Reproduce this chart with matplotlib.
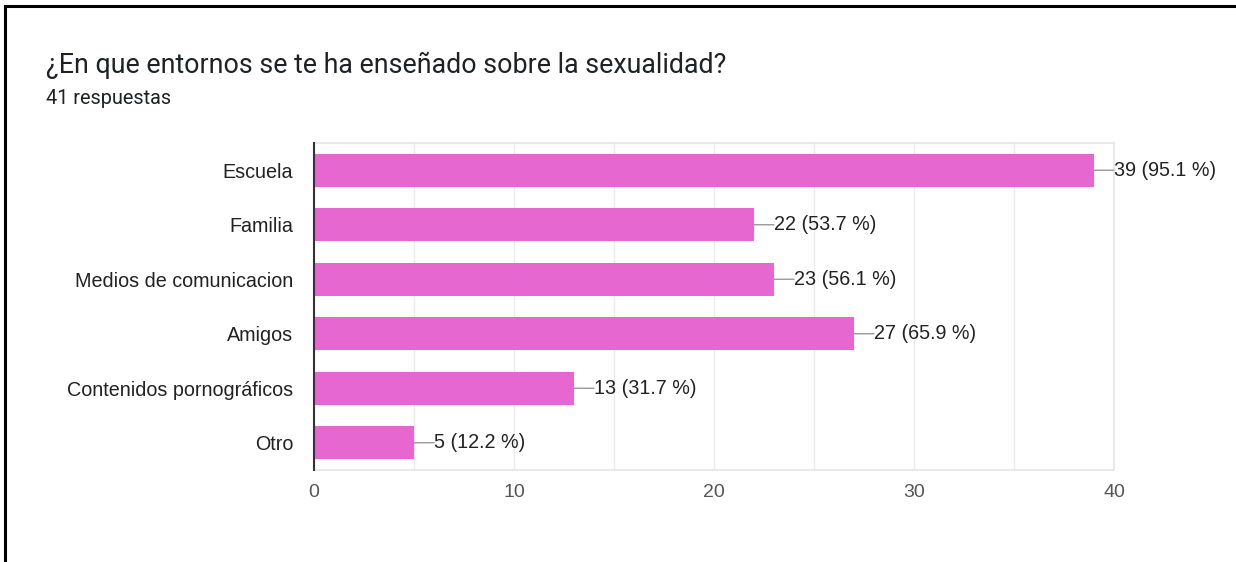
import matplotlib.pyplot as plt
from matplotlib.lines import Line2D

# survey data
categories = ["Escuela", "Familia", "Medios de comunicacion", "Amigos",
              "Contenidos pornográficos", "Otro"]
counts = [39, 22, 23, 27, 13, 5]
percents = [95.1, 53.7, 56.1, 65.9, 31.7, 12.2]
total = 41

fig = plt.figure(figsize=(12.36, 5.62), dpi=100)
ax = fig.add_axes([314 / 1236, 1 - 470 / 562, 800 / 1236, 327 / 562])

ypos = list(range(len(categories)))
ax.barh(ypos, counts, height=0.61, color="#e667d0", zorder=3)

ax.set_xlim(0, 40)
ax.set_ylim(len(categories) - 0.5, -0.5)
ax.set_xticks([0, 10, 20, 30, 40])
ax.set_xticks([5, 15, 25, 35], minor=True)
ax.set_yticks(ypos)
ax.set_yticklabels(categories, fontsize=14.2, color="#222222", family="Liberation Sans")
ax.tick_params(axis="y", length=0, pad=15)
ax.tick_params(axis="x", which="both", length=0, pad=10, labelsize=14,
               labelcolor="#555555")
for lab in ax.get_xticklabels():
    lab.set_family("Liberation Sans")
ax.grid(axis="x", which="both", color="#ebebeb", linewidth=1, zorder=0)

for side in ["top", "right", "bottom"]:
    ax.spines[side].set_color("#e6e6e6")
    ax.spines[side].set_linewidth(1.2)
ax.spines["left"].set_color("#333333")
ax.spines["left"].set_linewidth(1.5)
ax.spines["left"].set_zorder(4)

# value labels with leader line
for y, c, p in zip(ypos, counts, percents):
    ax.annotate("", xy=(c, y), xytext=(c + 1.0, y),
                arrowprops=dict(arrowstyle="-", color="#999999", lw=1,
                                shrinkA=0, shrinkB=0), zorder=4)
    ax.text(c + 1.0, y, f"{c} ({p} %)", va="center", ha="left",
            fontsize=14.2, color="#222222", family="Liberation Sans", zorder=4)

fig.text(46 / 1236, 1 - 65 / 562, "¿En que entornos se te ha enseñado sobre la sexualidad?",
         fontsize=19.3, color="#202124", family="Roboto", va="center")
fig.text(46 / 1236, 1 - 98 / 562, f"{total} respuestas",
         fontsize=14.3, color="#202124", family="Roboto", va="center")

# screenshot border
fig.add_artist(Line2D([5 / 1236, 5 / 1236], [0, 1 - 6 / 562], color="black", lw=2.2))
fig.add_artist(Line2D([5 / 1236, 1], [1 - 6 / 562, 1 - 6 / 562], color="black", lw=2.2))

fig.savefig("out.png", dpi=100)
